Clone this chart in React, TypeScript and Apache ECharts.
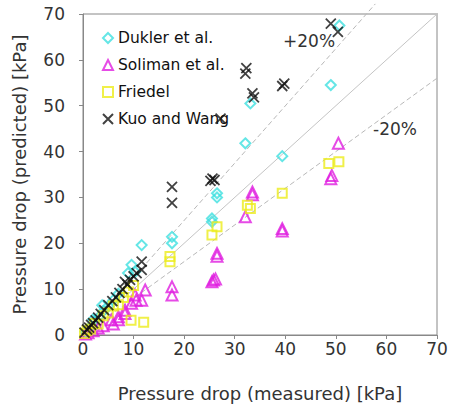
import React, { useEffect, useRef } from "react";
import * as echarts from "echarts";

const xTicks = [0, 10, 20, 30, 40, 50, 60, 70];
const seriesNames = ["Dukler et al.", "Soliman et al.", "Friedel", "Kuo and Wang"];

const dukler = [
  [0.5, 0.7], [1, 1.3], [2, 3.4], [2.5, 3.2], [3.2, 4], [3.8, 6.5], [4, 5.2], [5, 6.3], [6, 7.6], [7, 9],
  [8.9, 13.5], [9.6, 15.3], [10.3, 13.8], [11.6, 19.6], [17.6, 21.4], [17.6, 20.0],
  [25.5, 25.4], [25.5, 24.7], [26.5, 30.9], [26.5, 30.0], [32.1, 41.8], [33.1, 50.5],
  [39.4, 39.0], [49.0, 54.5], [50.7, 67.5],
];

const soliman = [
  [0.5, 0.2], [1, 0.5], [2, 0.9], [3, 1.5], [4, 2], [5.6, 3.3], [6, 2.4], [7, 3.3], [7, 4],
  [8.3, 4.7], [8.3, 5.4], [9.6, 6.9], [10.3, 8.7], [10.5, 7.6], [11.6, 7.6], [12.3, 9.8],
  [17.6, 10.5], [17.6, 8.7], [25.8, 12.0], [25.5, 11.6], [26.2, 12.2], [26.5, 17.8], [26.5, 17.2],
  [32.1, 25.8], [33.5, 31.2], [33.5, 30.6], [39.4, 23.2], [39.4, 22.7], [49.0, 34.1], [49.2, 34.8],
  [50.5, 41.8],
];

const friedel = [
  [0.3, 0.3], [0.8, 0.9], [1.5, 1.3], [2.3, 2.5], [3, 2.4], [4, 4.2], [5, 4.8], [6, 6.3], [7, 6.6],
  [8, 8.2], [9.5, 3.2], [9, 9.4], [10, 10.8], [12, 2.8], [17.2, 17.1], [17.2, 16.0],
  [25.5, 21.8], [26.5, 23.6], [32.5, 28.3], [33.1, 27.6], [39.4, 30.9], [48.6, 37.4], [50.6, 37.8],
];

const kuo = [
  [0.3, 0.5], [0.8, 1.2], [1.2, 1.6], [1.6, 2.2], [2, 2.6], [2.5, 3.2], [3, 3.8], [3.5, 4.6],
  [4.2, 5.4], [5, 6.5], [5.8, 7.4], [6.5, 8.2], [7.2, 9.2], [7.8, 10], [8.3, 11.6], [8.8, 11],
  [9.3, 12], [10, 12.8], [10.6, 13.5], [11.6, 14.2], [11.6, 16.0], [17.6, 32.3], [17.6, 28.8],
  [25.2, 33.6], [25.6, 34.1], [26.0, 33.8], [27.2, 47.2], [32.1, 57.0], [32.3, 58.2],
  [33.5, 52.7], [33.8, 51.8], [39.4, 54.3], [39.8, 54.8], [49.0, 67.9], [50.4, 66.1],
];

const lineOneToOne = [[0, 0], [71.2, 71.2]];
const linePlus20 = [[0, 0], [57.8, 72.2]];
const lineMinus20 = [[0, 0], [71.5, 57.2]];

const FONT = "DejaVu Sans";
const TXT = "#333";

export default function App() {
  const ref = useRef<HTMLDivElement>(null);
  useEffect(() => {
    if (!ref.current) return;
    const chart = echarts.init(ref.current, undefined, { renderer: "svg" });
    const refLine = (data: number[][], dashed: boolean) => ({
      type: "line",
      data,
      showSymbol: false,
      symbol: "none",
      clip: false,
      silent: true,
      lineStyle: { color: dashed ? "#b8b8b8" : "#c4c4c4", width: 1, type: dashed ? [5, 3] : "solid" },
      z: 1,
    });
    const hollow = (color: string, width: number) => ({
      color: "rgba(255,255,255,0)",
      borderColor: color,
      borderWidth: width,
    });
    chart.setOption({
      animation: false,
      grid: {
        left: 83, right: 15, top: 14, bottom: 81,
        show: true, borderColor: "#888", borderWidth: 1, backgroundColor: "transparent",
      },
      legend: {
        orient: "vertical",
        left: 97,
        top: 25,
        itemWidth: 10,
        itemHeight: 10,
        itemGap: 11,
        data: seriesNames,
        textStyle: { fontFamily: FONT, fontSize: 15.5, color: "#111", lineHeight: 16 },
      },
      xAxis: {
        type: "value",
        min: 0, max: 70, interval: 10,
        name: "Pressure drop (measured) [kPa]",
        nameLocation: "middle",
        nameGap: 49,
        nameTextStyle: { fontFamily: FONT, fontSize: 18, color: TXT },
        axisLine: { show: true, lineStyle: { color: "#888" } },
        axisTick: { show: true, length: 4, lineStyle: { color: "#888" } },
        axisLabel: {
          fontFamily: FONT, fontSize: 17, color: TXT, margin: 5,
          formatter: (v: number) => (xTicks.includes(v) ? String(v) : ""),
        },
        splitLine: { show: false },
      },
      yAxis: {
        type: "value",
        min: 0, max: 70, interval: 10,
        name: "Pressure drop (predicted) [kPa]",
        nameLocation: "middle",
        nameGap: 55,
        nameTextStyle: { fontFamily: FONT, fontSize: 18, color: TXT },
        axisLine: { show: true, lineStyle: { color: "#888" } },
        axisTick: { show: true, length: 4, lineStyle: { color: "#888" } },
        axisLabel: { fontFamily: FONT, fontSize: 17, color: TXT, margin: 18 },
        splitLine: { show: false },
      },
      graphic: [
        { type: "text", left: 283, top: 32, style: { text: "+20%", font: `17px "${FONT}"`, fill: TXT } },
        { type: "text", left: 373, top: 120, style: { text: "-20%", font: `17px "${FONT}"`, fill: TXT } },
      ],
      series: [
        refLine(lineOneToOne, false),
        refLine(linePlus20, true),
        refLine(lineMinus20, true),
        {
          name: seriesNames[0], type: "scatter", data: dukler, symbol: "diamond", symbolSize: 10,
          itemStyle: hollow("#3fe0e0", 2), z: 3,
        },
        {
          name: seriesNames[1], type: "scatter", data: soliman, symbol: "triangle", symbolSize: 11,
          itemStyle: hollow("#e01ee0", 2), z: 3,
        },
        {
          name: seriesNames[2], type: "scatter", data: friedel, symbol: "rect", symbolSize: 9,
          itemStyle: hollow("#ecec1c", 2), z: 3,
        },
        {
          name: seriesNames[3], type: "scatter", data: kuo, symbol: "path://M0,0L10,10M10,0L0,10", symbolSize: 10,
          itemStyle: hollow("#111", 1.8), z: 4,
        },
      ],
    });
    return () => chart.dispose();
  }, []);
  return <div ref={ref} style={{ width: 452, height: 416, position: "absolute", left: 0, top: 0 }} />;
}
